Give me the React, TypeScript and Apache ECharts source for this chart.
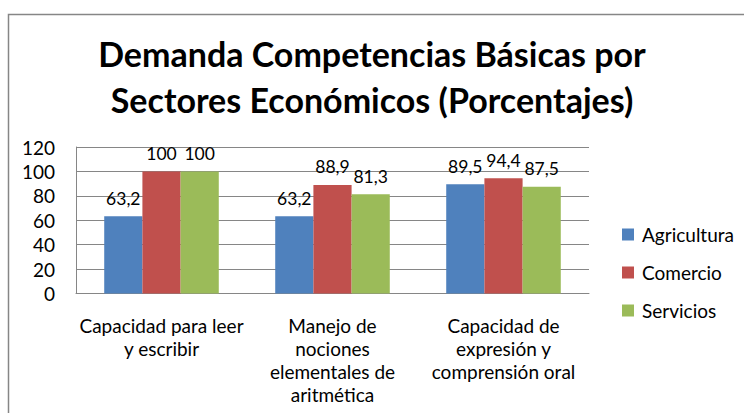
import React, { useEffect, useRef } from "react";
import * as echarts from "echarts";

const categories = [
  "Capacidad para leer\ny escribir",
  "Manejo de\nnociones\nelementales de\naritmética",
  "Capacidad de\nexpresión y\ncomprensión oral",
];
const agricultura = [63.2, 63.2, 89.5];
const comercio = [100, 88.9, 94.4];
const servicios = [100, 81.3, 87.5];
const seriesNames = ["Agricultura", "Comercio", "Servicios"];
const colors = ["#4F81BD", "#C0504D", "#9BBB59"];

const FONT = "Lato, 'Noto Sans', sans-serif";

export default function App() {
  const ref = useRef<HTMLDivElement>(null);
  useEffect(() => {
    if (!ref.current) return;
    const chart = echarts.init(ref.current, null, { renderer: "svg" });
    const label = {
      show: true,
      position: "top" as const,
      distance: 9,
      color: "#000",
      fontFamily: FONT,
      fontSize: 17.5,
      formatter: (p: any) => String(p.value).replace(".", ","),
    };
    const mk = (name: string, data: number[], color: string) => ({
      name,
      type: "bar",
      data,
      barGap: "0%",
      barCategoryGap: "33%",
      itemStyle: { color },
      label,
    });
    chart.setOption({
      animation: false,
      backgroundColor: "#fff",
      textStyle: { fontFamily: FONT },
      title: {
        text: "Demanda Competencias Básicas por\nSectores Económicos (Porcentajes)",
        left: "center",
        top: 30,
        padding: 0,
        textStyle: {
          fontFamily: FONT,
          fontWeight: "bold",
          fontSize: 34,
          lineHeight: 46,
          color: "#000",
        },
      },
      graphic: [
        {
          type: "rect",
          shape: { x: 8.5, y: 14.5, width: 800, height: 500 },
          style: { fill: "none", stroke: "#868686", lineWidth: 1.5 },
          silent: true,
          z: -10,
        },
      ],
      legend: {
        orient: "vertical",
        left: 622,
        top: 225,
        padding: 0,
        itemWidth: 12,
        itemHeight: 12,
        itemGap: 19,
        icon: "rect",
        textStyle: { fontFamily: FONT, fontSize: 19, color: "#000", padding: [0, 0, 0, 3] },
        data: seriesNames,
      },
      grid: { left: 76, right: 155, top: 147, bottom: 119.5, containLabel: false },
      xAxis: {
        type: "category",
        data: categories,
        axisLine: { show: true, lineStyle: { color: "#868686", width: 1 } },
        axisTick: { show: false },
        axisLabel: {
          interval: 0,
          margin: 20,
          color: "#000",
          fontFamily: FONT,
          fontSize: 19,
          lineHeight: 23,
          align: "center",
        },
      },
      yAxis: {
        type: "value",
        min: 0,
        max: 120,
        interval: 20,
        axisLine: { show: true, lineStyle: { color: "#868686", width: 1 } },
        axisTick: { show: false },
        splitLine: { show: true, lineStyle: { color: "#868686", width: 1 } },
        axisLabel: { margin: 21, color: "#000", fontFamily: FONT, fontSize: 19 },
      },
      series: [
        mk(seriesNames[0], agricultura, colors[0]),
        mk(seriesNames[1], comercio, colors[1]),
        mk(seriesNames[2], servicios, colors[2]),
      ],
    });
    return () => chart.dispose();
  }, []);
  return (
    <div
      ref={ref}
      style={{ position: "fixed", left: 0, top: 0, width: 744, height: 413 }}
    />
  );
}
